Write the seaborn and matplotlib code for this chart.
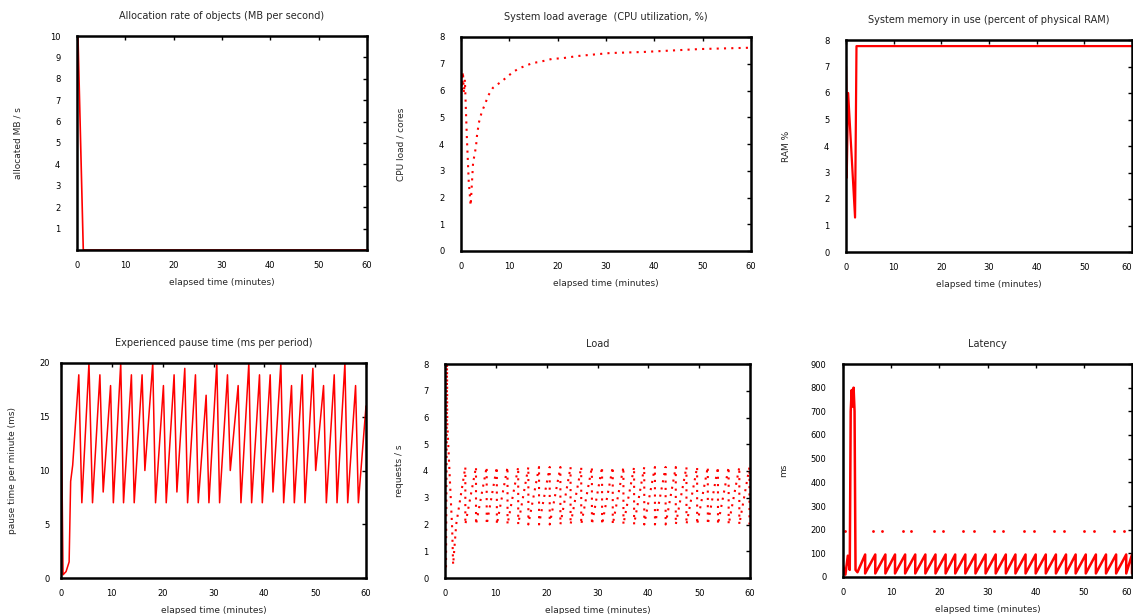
import numpy as np
import pandas as pd
import matplotlib
matplotlib.use("Agg")
import matplotlib.pyplot as plt
import seaborn as sns

# ---------------- data ----------------
xticks_min = [0, 10, 20, 30, 40, 50, 60]

# panel 1: allocation rate
p1_t = [0.0, 0.2, 1.3, 2.0, 60.0]
p1_v = [10.0, 10.0, 0.0, 0.0, 0.0]
p1_yticks = [1, 2, 3, 4, 5, 6, 7, 8, 9, 10]

# panel 2: load average (rising curve)
p2_t = [0.0, 0.2, 0.4, 0.6, 0.8, 1.2, 1.6, 2.0, 2.5, 3.1, 3.3, 3.7, 4.3, 5.0, 5.6, 6.6,
        8.1, 9.5, 10.8, 12.2, 13.7, 14.9, 16.3, 18.8, 21.1, 24.2, 30.8, 37.7, 49.5, 60.0]
p2_v = [6.8, 6.0, 6.7, 5.9, 6.4, 4.3, 2.6, 1.7, 3.3, 3.9, 4.3, 4.8, 5.2, 5.5, 5.8, 6.1,
        6.3, 6.5, 6.7, 6.84, 6.95, 7.03, 7.07, 7.18, 7.21, 7.29, 7.40, 7.44, 7.55, 7.6]
p2_yticks = [0, 1, 2, 3, 4, 5, 6, 7, 8]

# panel 3: memory in use
p3_t = [0.0, 0.1, 0.15, 0.45, 1.9, 2.2, 60.0]
p3_v = [7.0, 5.9, 2.8, 6.0, 1.3, 7.77, 7.77]
p3_yticks = [0, 1, 2, 3, 4, 5, 6, 7, 8]

# panel 4: experienced pause time (zig-zag)
p4_t = [0.0, 0.1, 0.4, 1.0, 1.6, 1.9, 2.3, 3.5, 4.1, 5.5, 6.2, 7.65, 8.3, 9.75, 10.3,
        11.75, 12.3, 13.85, 14.4, 15.95, 16.5, 18.05, 18.6, 20.15, 20.7, 22.25, 22.8,
        24.35, 24.9, 26.45, 27.0, 28.55, 29.1, 30.65, 31.2, 32.75, 33.3, 34.85, 35.4,
        36.95, 37.5, 39.05, 39.6, 41.15, 41.7, 43.25, 43.8, 45.35, 45.9, 47.45, 48.0,
        49.55, 50.1, 51.65, 52.2, 53.75, 54.3, 55.85, 56.4, 57.95, 58.5, 60.0]
p4_v = [20.0, 14.0, 0.3, 0.6, 1.5, 9.0, 10.5, 18.9, 7.0, 20.0, 7.0, 18.9, 8.0, 17.9, 7.0,
        20.0, 7.0, 18.9, 7.0, 18.9, 10.0, 20.0, 7.0, 17.9, 7.0, 18.9, 8.0,
        19.5, 7.0, 18.9, 7.0, 17.0, 7.0, 20.0, 7.0, 18.9, 10.0, 17.9, 7.0,
        20.0, 7.0, 18.9, 7.0, 18.9, 8.0, 20.0, 7.0, 17.9, 7.0, 18.9, 7.0,
        19.5, 10.0, 17.9, 7.0, 18.9, 7.0, 20.0, 7.0, 17.9, 7.0, 16.0]
p4_yticks = [0, 5, 10, 15, 20]

# panel 5: load (sawtooth)
p5_t = [0.2, 0.3, 0.4, 0.45, 1.0, 1.4, 1.6, 2.2]
p5_v = [0.4, 4.0, 8.0, 5.8, 3.5, 1.9, 0.5, 2.0]
p5_resets = [4.0, 6.1, 8.2, 10.2, 12.3, 14.4, 16.4, 18.5, 20.6, 22.7, 24.7, 26.8, 28.9,
             30.9, 33.0, 35.1, 37.2, 39.2, 41.3, 43.4, 45.4, 47.5, 49.6, 51.7, 53.7,
             55.8, 57.9, 59.9]
p5_low = 2.0
p5_high = 4.15
p5_yticks = [0, 1, 2, 3, 4, 5, 6, 7, 8]

# panel 6: latency
p6_t = [0.0, 0.5, 1.0, 1.4, 1.6, 1.8, 2.0, 2.2, 2.4, 2.6, 3.0]
p6_v = [50, 10, 90, 30, 700, 790, 720, 800, 700, 30, 20]
p6_resets = [4.6, 6.7, 8.8, 10.8, 12.9, 15.0, 17.1, 19.2, 21.3, 23.3, 25.4, 27.5, 29.6,
             31.7, 33.8, 35.8, 37.9, 40.0, 42.1, 44.2, 46.3, 48.3, 50.4, 52.5, 54.6,
             56.7, 58.8, 60.0]
p6_low = 15
p6_high = 95
p6_spike_t = [0.4, 6.3, 8.0, 12.5, 14.2, 18.8, 20.8, 25.0, 27.1, 31.3, 33.3, 37.5, 39.6,
              43.8, 45.8, 50.0, 52.1, 56.3, 58.3]
p6_spike_v = [194] * len(p6_spike_t)
p6_yticks = [0, 100, 200, 300, 400, 500, 600, 700, 800, 900]

titles = ["Allocation rate of objects (MB per second)",
          "System load average  (CPU utilization, %)",
          "System memory in use (percent of physical RAM)",
          "Experienced pause time (ms per period)",
          "Load",
          "Latency"]
xlabels = ["elapsed time (minutes)"] * 6
ylabels = ["allocated MB / s", "CPU load / cores", "RAM %",
           "pause time per minute (ms)", "requests / s", "ms"]

# ---------------- style ----------------
sns.set_theme(style="white")
plt.rcParams['font.family'] = ['DejaVu Sans']
RED = "#ff0000"
FS = 6

fig = plt.figure(figsize=(11.33, 6.14), dpi=100)


def make_ax(l, t, r, b):
    return fig.add_axes([l / 1133, 1 - b / 614, (r - l) / 1133, (b - t) / 614])


def style(ax, xlim, ylim, yticks, title, xlabel, ylabel, ypad, ylabpad, right_edge=False):
    ax.set_xlim(*xlim)
    ax.set_ylim(*ylim)
    ax.set_xticks(xticks_min)
    ax.set_yticks(yticks)
    for s in ax.spines.values():
        s.set_color("black")
        s.set_linewidth(1.8)
        s.set_visible(True)
    ax.tick_params(direction="in", length=3, width=1, top=True, right=True,
                   labelsize=FS, colors="black")
    ax.tick_params(axis="x", pad=8)
    ax.tick_params(axis="y", pad=ypad)
    ax.set_title(title, fontsize=7, pad=12)
    ax.set_xlabel(xlabel, fontsize=FS + 0.5, labelpad=6)
    ax.set_ylabel(ylabel, fontsize=FS + 0.5, labelpad=ylabpad)
    ax.grid(False)
    if right_edge:
        lab = ax.get_xticklabels()
        lab[-1].set_horizontalalignment("right")


def sawtooth(resets, low, high):
    xs, ys = [], []
    for r in resets:
        xs += [r, r]
        ys += [high, low]
    return xs, ys


axes = [make_ax(77, 36, 367, 250), make_ax(461, 37, 751, 251), make_ax(846, 40, 1132, 252),
        make_ax(61, 363, 366, 578), make_ax(445, 364, 750, 578), make_ax(843, 364, 1132, 577)]

sns.lineplot(x=p1_t, y=p1_v, ax=axes[0], color=RED, lw=1.2, estimator=None, sort=False)
sns.lineplot(x=p2_t, y=p2_v, ax=axes[1], color=RED, lw=1.5, estimator=None, sort=False,
             linestyle=(0, (1, 2.5)))
sns.lineplot(x=p3_t, y=p3_v, ax=axes[2], color=RED, lw=1.6, estimator=None, sort=False)
sns.lineplot(x=p4_t, y=p4_v, ax=axes[3], color=RED, lw=1.1, estimator=None, sort=False)

sx, sy = sawtooth(p5_resets, p5_low, p5_high)
sns.lineplot(x=p5_t + sx, y=p5_v + sy, ax=axes[4], color=RED, lw=1.5, estimator=None,
             sort=False, linestyle=(0, (1, 2.5)))

sx, sy = sawtooth(p6_resets, p6_low, p6_high)
sns.lineplot(x=p6_t + sx, y=p6_v + sy, ax=axes[5], color=RED, lw=1.8, estimator=None, sort=False)
sns.scatterplot(x=p6_spike_t, y=p6_spike_v, ax=axes[5], color=RED, s=4, linewidth=0)

style(axes[0], (0, 60), (0, 10), p1_yticks, titles[0], xlabels[0], ylabels[0], 12, 20)
style(axes[1], (0, 60), (0, 8), p2_yticks, titles[1], xlabels[1], ylabels[1], 12, 24)
style(axes[2], (0, 60), (0, 8), p3_yticks, titles[2], xlabels[2], ylabels[2], 12, 24, True)
style(axes[3], (0, 60), (0, 20), p4_yticks, titles[3], xlabels[3], ylabels[3], 8, 16)
style(axes[4], (0, 60), (0, 8), p5_yticks, titles[4], xlabels[4], ylabels[4], 12, 14)
style(axes[5], (0, 60), (0, 900), p6_yticks, titles[5], xlabels[5], ylabels[5], 12, 16, True)

fig.savefig("out.png", dpi=100)
